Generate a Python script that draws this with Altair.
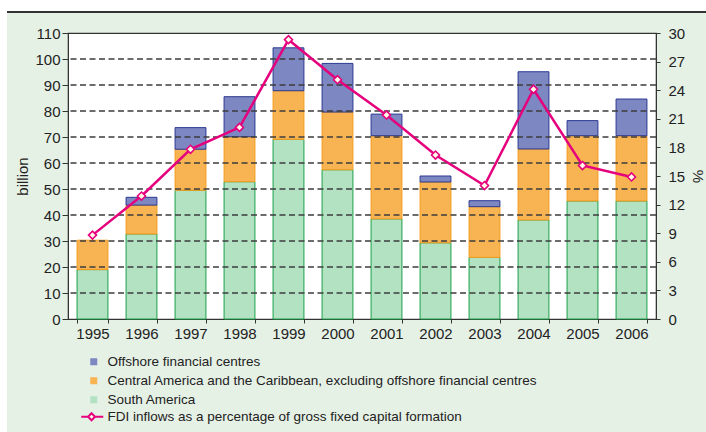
import altair as alt
import pandas as pd

FONT = "Liberation Sans"
MAG = "#e5007d"

years = ["1995", "1996", "1997", "1998", "1999", "2000",
         "2001", "2002", "2003", "2004", "2005", "2006"]
south_america = [19.0, 32.7, 49.5, 52.8, 69.1, 57.4, 38.5, 29.3, 23.7, 38.1, 45.4, 45.4]
central_america = [11.3, 11.1, 15.8, 17.3, 18.7, 22.2, 32.0, 23.4, 19.5, 27.3, 25.1, 25.1]
offshore = [0.0, 3.0, 8.3, 15.4, 16.5, 18.7, 8.3, 2.3, 2.3, 29.7, 5.8, 14.1]
fdi_pct = [8.8, 12.9, 17.8, 20.1, 29.3, 25.1, 21.4, 17.2, 14.0, 24.1, 16.1, 14.9]

left_ticks = [0, 10, 20, 30, 40, 50, 60, 70, 80, 90, 100, 110]
grid_values = [10, 20, 30, 40, 50, 60, 70, 80, 90, 100]
right_ticks = [0, 3, 6, 9, 12, 15, 18, 21, 24, 27, 30]

bar_series = [
    "Offshore financial centres",
    "Central America and the Caribbean, excluding offshore financial centres",
    "South America",
]
line_series = ["FDI inflows as a percentage of gross fixed capital formation"]
fill_colors = ["#7d87c2", "#f8b352", "#b3e2c3"]
stroke_colors = ["#2b3990", "#f39a1e", "#1aa24b"]

rows = []
for i, yr in enumerate(years):
    rows.append({"year": yr, "series": bar_series[2], "value": south_america[i], "ord": 0})
    rows.append({"year": yr, "series": bar_series[1], "value": central_america[i], "ord": 1})
    rows.append({"year": yr, "series": bar_series[0], "value": offshore[i], "ord": 2})
bars_df = pd.DataFrame(rows)
line_df = pd.DataFrame({"year": years, "pct": fdi_pct, "s": line_series * len(years)})
grid_df = pd.DataFrame({"v": grid_values})

x_enc = alt.X(
    "year:N",
    sort=years,
    scale=alt.Scale(paddingInner=0.37, paddingOuter=0.185),
    axis=alt.Axis(title=None, labelAngle=0, tickBand="extent", tickSize=4,
                  labelPadding=3, domainColor="#333", tickColor="#333"),
)

left_axis = alt.Axis(values=left_ticks, title="billion", grid=False, labelOverlap=False,
                     tickSize=6, labelPadding=2, titleX=-38, titleY=143)
right_axis = alt.Axis(orient="right", values=right_ticks, title="%", grid=False,
                      labelOverlap=False, tickSize=4, labelPadding=8, titleAngle=90,
                      titleX=33, titleY=143)
left_scale = alt.Scale(domain=[0, 110], nice=False)
right_scale = alt.Scale(domain=[0, 30], nice=False)

legend_common = dict(
    orient="none", title=None, padding=0, symbolSize=49,
    labelFont=FONT, labelFontSize=13.5, labelColor="#222",
    labelLimit=700, rowPadding=4,
)

bar_stroke = (
    alt.when(alt.datum.series == bar_series[0]).then(alt.value(stroke_colors[0]))
    .when(alt.datum.series == bar_series[1]).then(alt.value(stroke_colors[1]))
    .otherwise(alt.value(stroke_colors[2]))
)

bars = alt.Chart(bars_df).transform_filter(alt.datum.value > 0).mark_bar(strokeWidth=1).encode(
    x=x_enc,
    y=alt.Y("value:Q", stack="zero", scale=left_scale, axis=left_axis),
    color=alt.Color("series:N", scale=alt.Scale(domain=bar_series, range=fill_colors),
                    legend=alt.Legend(legendX=19, legendY=322, symbolType="square",
                                      symbolStrokeWidth=0, labelOffset=7, **legend_common)),
    stroke=bar_stroke,
    order=alt.Order("ord:Q"),
)

grid = alt.Chart(grid_df).mark_rule(color="#3d3d3d", strokeWidth=1.4, strokeDash=[6, 3.5]).encode(
    y=alt.Y("v:Q", scale=left_scale, axis=left_axis),
)

legend_path = "M-2.15,0L-0.2,0M1.8,0L4.15,0M-0.2,0L0.8,-1L1.8,0L0.8,1Z"

line = alt.Chart(line_df).mark_line(strokeWidth=2.5).encode(
    x=x_enc,
    y=alt.Y("pct:Q", scale=right_scale, axis=right_axis),
    stroke=alt.Stroke("s:N", scale=alt.Scale(domain=line_series, range=[MAG]),
                      legend=alt.Legend(legendX=14, legendY=377, symbolType=legend_path,
                                        symbolStrokeWidth=2, symbolFillColor="#fffbe8",
                                        symbolStrokeColor=MAG, labelOffset=12,
                                        **legend_common)),
)
points = alt.Chart(line_df).mark_point(shape="diamond", filled=True, fill="#fffbe8",
                                       stroke=MAG, strokeWidth=1.6, size=64, opacity=1).encode(
    x=x_enc,
    y=alt.Y("pct:Q", scale=right_scale, axis=right_axis),
)

# decorative white margin strip and dark rule above the panel
deco_df = pd.DataFrame({"k": [0]})
top_strip = alt.Chart(deco_df).mark_rect(color="white").encode(
    x=alt.value(-68), x2=alt.value(638), y=alt.value(-33), y2=alt.value(-21))
left_strip = alt.Chart(deco_df).mark_rect(color="white").encode(
    x=alt.value(-68), x2=alt.value(-61), y=alt.value(-33), y2=alt.value(399))
top_rule = alt.Chart(deco_df).mark_rule(color="#333", strokeWidth=2).encode(
    x=alt.value(-61), x2=alt.value(638), y=alt.value(-21))

chart = alt.layer(
    alt.layer(bars, grid),
    alt.layer(line, points),
    top_strip, left_strip, top_rule,
).resolve_scale(y="independent").properties(
    width=588, height=286,
    autosize=alt.AutoSizeParams(type="none"),
    padding={"left": 68, "top": 33, "right": 50, "bottom": 113},
    background="#e6f1e6",
).configure_view(
    fill="white", stroke="#333", strokeWidth=1.2,
).configure_axis(
    labelFont=FONT, titleFont=FONT, labelFontSize=15, titleFontSize=15,
    labelColor="#222", titleColor="#222", titleFontWeight="normal",
    domainColor="#333", tickColor="#333",
)

chart.save("out.html", embed_options={"renderer": "svg", "actions": False})
